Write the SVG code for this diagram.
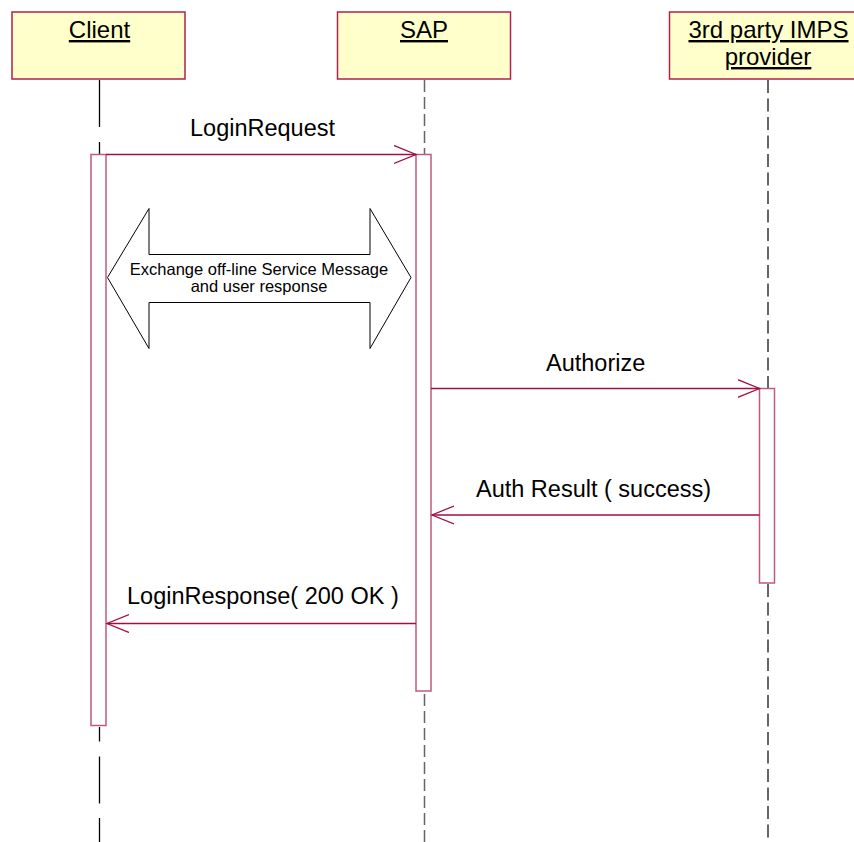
<svg xmlns="http://www.w3.org/2000/svg" width="854" height="842" viewBox="0 0 854 842">
  <style>
    .head { fill: #FFFFCC; stroke: #B0204F; stroke-width: 1.5; }
    .htxt { font-family: "Liberation Sans", Arial, sans-serif; font-size: 24px; fill: #000; text-anchor: middle; text-decoration: underline; }
    .act { fill: #FFFFFF; stroke: #C05A7E; stroke-width: 1.5; }
    .msg { stroke: #A0103E; stroke-width: 1.3; fill: none; }
    .mtxt { font-family: "Liberation Sans", Arial, sans-serif; font-size: 23.5px; fill: #000; }
    .life-solid { stroke: #000; stroke-width: 1.3; }
    .life-grey { stroke: #666; stroke-width: 1.5; stroke-dasharray: 12 5; }
    .life-dark { stroke: #333; stroke-width: 1.5; stroke-dasharray: 13 5.5; }
    .xtxt { font-family: "Liberation Sans", Arial, sans-serif; font-size: 16.5px; fill: #000; text-anchor: middle; }
  </style>
  <defs>
    <marker id="open" markerWidth="24" markerHeight="20" refX="22" refY="9.5" orient="auto" markerUnits="userSpaceOnUse">
      <path d="M0,0.5 L22,9.5 L0,18.5" fill="none" stroke="#A0103E" stroke-width="1.3"/>
    </marker>
  </defs>

  <rect width="854" height="842" fill="#FFFFFF"/>

  <!-- lifelines -->
  <g id="lifelines">
    <line class="life-solid" x1="99.5" y1="80" x2="99.5" y2="127"/>
    <line class="life-solid" x1="99.5" y1="142" x2="99.5" y2="154"/>
    <line class="life-solid" x1="99.5" y1="727" x2="99.5" y2="741.5"/>
    <line class="life-solid" x1="99.5" y1="756.5" x2="99.5" y2="803.5"/>
    <line class="life-solid" x1="99.5" y1="818" x2="99.5" y2="842"/>
    <line class="life-grey" x1="424.5" y1="80" x2="424.5" y2="154"/>
    <line class="life-grey" x1="424.5" y1="694" x2="424.5" y2="842"/>
    <line class="life-dark" x1="768" y1="80" x2="768" y2="388"/>
    <line class="life-dark" x1="768" y1="584" x2="768" y2="842"/>
  </g>

  <!-- participants -->
  <g id="client">
    <rect class="head" x="12" y="12" width="173" height="67"/>
    <text class="htxt" x="99.5" y="38">Client</text>
    <rect class="act" x="91" y="154.5" width="15" height="571"/>
  </g>
  <g id="sap">
    <rect class="head" x="337.5" y="12" width="173" height="67"/>
    <text class="htxt" x="424" y="38">SAP</text>
    <rect class="act" x="416" y="154.5" width="15" height="536.5"/>
  </g>
  <g id="provider">
    <rect class="head" x="669.5" y="12" width="200" height="67"/>
    <text class="htxt" x="768.5" y="38">3rd party IMPS</text>
    <text class="htxt" x="768" y="65">provider</text>
    <rect class="act" x="759.5" y="388.5" width="15" height="194.5"/>
  </g>

  <!-- exchange note -->
  <g id="exchange">
    <path d="M107.5,277.5 L149,208.5 L149,254.5 L370,254.5 L370,208.5 L411,277.5 L370,348.5 L370,302.5 L149,302.5 L149,348.5 Z" fill="#FFFFFF" stroke="#000" stroke-width="1"/>
    <text class="xtxt" x="259" y="275">Exchange off-line Service Message</text>
    <text class="xtxt" x="259" y="292">and user response</text>
  </g>

  <!-- messages -->
  <g id="connectors">
    <line class="msg" x1="106" y1="154.5" x2="416" y2="154.5" marker-end="url(#open)"/>
    <text class="mtxt" x="190" y="136">LoginRequest</text>
    <line class="msg" x1="431" y1="388.5" x2="759.5" y2="388.5" marker-end="url(#open)"/>
    <text class="mtxt" x="546" y="371">Authorize</text>
    <line class="msg" x1="759.5" y1="515" x2="432" y2="515" marker-end="url(#open)"/>
    <text class="mtxt" x="476" y="497">Auth Result ( success)</text>
    <line class="msg" x1="416" y1="623.5" x2="107" y2="623.5" marker-end="url(#open)"/>
    <text class="mtxt" x="127" y="604">LoginResponse( 200 OK )</text>
  </g>
</svg>
